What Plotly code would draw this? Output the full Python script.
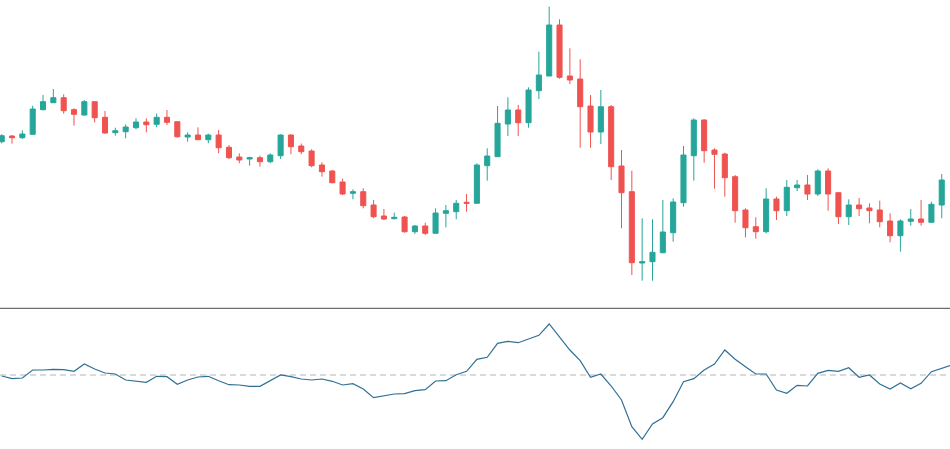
import plotly.graph_objects as go

# ---- data ----
opens = [66.83, 67.40, 67.23, 67.57, 70.03, 70.73, 71.23, 70.03, 69.50, 70.83,
         69.27, 67.73, 67.83, 68.23, 68.80, 68.57, 69.27, 68.83, 67.30, 67.50,
         67.03, 67.50, 66.27, 65.30, 65.10, 65.23, 64.83, 65.43, 67.50, 66.40,
         65.90, 64.50, 63.90, 62.80, 61.67, 61.83, 60.50, 59.40, 59.13, 59.30,
         57.83, 58.40, 57.67, 59.67, 59.83, 60.77, 60.67, 64.43, 65.33, 68.60,
         70.00, 68.73, 71.93, 73.40, 78.50, 73.40, 73.10, 70.40, 67.80, 70.33,
         64.40, 61.83, 54.70, 54.83, 55.73, 57.73, 60.73, 65.43, 69.00, 66.00,
         65.60, 63.33, 60.00, 58.33, 57.83, 61.10, 59.93, 62.23, 62.50, 61.60,
         63.90, 61.73, 59.33, 60.50, 60.20, 60.00, 58.90, 57.43, 58.87, 59.10,
         58.77, 60.50]
highs = [67.57, 67.50, 67.97, 70.43, 71.50, 72.10, 71.57, 70.17, 71.00, 70.83,
         69.90, 68.23, 68.57, 69.17, 69.17, 69.65, 70.00, 68.83, 67.77, 68.27,
         67.63, 68.00, 66.50, 65.67, 65.33, 65.43, 65.67, 67.57, 67.57, 66.65,
         66.07, 64.77, 64.00, 63.13, 62.07, 62.17, 61.00, 60.10, 59.73, 59.40,
         58.50, 58.73, 60.17, 60.50, 61.00, 61.60, 64.67, 66.17, 70.40, 71.27,
         70.50, 72.27, 75.83, 80.33, 79.07, 76.17, 75.07, 71.50, 72.00, 70.50,
         66.00, 63.93, 59.17, 59.07, 61.00, 61.17, 66.40, 69.17, 69.07, 66.17,
         65.73, 63.50, 60.17, 59.27, 62.17, 61.33, 63.00, 63.00, 63.50, 64.07,
         64.17, 61.73, 61.07, 61.20, 60.67, 60.93, 59.67, 59.07, 60.10, 61.00,
         60.83, 63.60]
lows = [66.67, 66.63, 67.10, 67.57, 69.97, 70.73, 69.63, 68.43, 69.43, 68.77,
        67.63, 67.43, 67.17, 68.07, 67.77, 68.27, 68.50, 67.23, 66.83, 67.03,
        66.67, 65.67, 65.10, 64.67, 64.43, 64.33, 64.67, 65.10, 65.57, 65.57,
        64.27, 63.33, 62.67, 61.50, 61.07, 60.17, 59.17, 59.00, 59.07, 57.73,
        57.60, 57.50, 57.67, 58.27, 59.07, 59.83, 60.67, 62.93, 65.33, 67.40,
        67.40, 68.23, 71.10, 73.40, 73.13, 72.60, 66.23, 66.23, 66.60, 63.00,
        58.17, 53.50, 52.93, 52.93, 55.67, 56.83, 60.33, 62.93, 64.73, 62.13,
        61.33, 58.73, 57.27, 57.13, 57.67, 59.00, 59.40, 61.90, 61.00, 61.40,
        59.93, 58.60, 58.50, 59.40, 58.67, 58.27, 56.77, 55.83, 58.43, 58.43,
        58.77, 59.17]
closes = [67.43, 67.23, 67.60, 70.10, 70.83, 71.23, 69.93, 69.57, 70.83, 69.23,
          67.70, 67.93, 68.30, 68.80, 68.53, 69.27, 68.77, 67.33, 67.50, 67.03,
          67.50, 66.23, 65.23, 65.00, 65.23, 64.83, 65.50, 67.50, 66.33, 65.83,
          64.43, 63.83, 62.73, 61.60, 61.83, 60.43, 59.33, 59.10, 59.27, 57.83,
          58.40, 57.67, 59.70, 59.93, 60.67, 60.67, 64.50, 65.40, 68.67, 70.00,
          68.73, 72.00, 73.50, 78.50, 73.27, 73.00, 70.33, 67.80, 70.33, 64.33,
          61.73, 54.73, 54.83, 55.77, 57.80, 60.80, 65.50, 69.00, 65.93, 65.57,
          63.23, 59.93, 58.23, 57.83, 61.10, 59.93, 62.27, 62.50, 61.60, 63.90,
          61.60, 59.33, 60.50, 60.13, 59.93, 58.83, 57.43, 58.90, 59.10, 58.77,
          60.57, 63.00]

oscillator = [-0.10, -0.37, -0.30, 0.50, 0.50, 0.57, 0.53, 0.37, 1.10, 0.60,
              0.20, 0.10, -0.50, -0.60, -0.73, -0.13, -0.17, -0.93, -0.50, -0.20,
              -0.13, -0.57, -0.97, -1.00, -1.13, -1.13, -0.57, 0.00, -0.17, -0.40,
              -0.50, -0.40, -0.63, -1.00, -0.87, -1.40, -2.27, -2.07, -1.90, -1.87,
              -1.57, -1.47, -0.60, -0.57, 0.03, 0.37, 1.57, 1.77, 3.17, 3.37,
              3.23, 3.60, 3.97, 5.10, 3.77, 2.50, 1.43, -0.23, 0.10, -1.10,
              -2.50, -5.17, -6.43, -4.90, -4.27, -2.67, -0.67, -0.37, 0.50, 1.10,
              2.50, 1.57, 0.83, 0.10, 0.10, -1.50, -1.83, -1.03, -1.10, 0.17,
              0.47, 0.37, 0.73, -0.23, 0.00, -0.90, -1.40, -0.80, -1.37, -0.83,
              0.33, 0.67, 1.00]

bars = list(range(len(opens)))
osc_bars = list(range(len(oscillator)))

UP = "#26a69a"
DOWN = "#ef5350"
LINE = "#2f7096"

split = 1 - 308.3 / 449  # paper y of the pane separator

fig = go.Figure()
fig.add_trace(go.Candlestick(
    x=bars, open=opens, high=highs, low=lows, close=closes,
    increasing=dict(line=dict(color=UP, width=1), fillcolor=UP),
    decreasing=dict(line=dict(color=DOWN, width=1), fillcolor=DOWN),
    whiskerwidth=0, hoverinfo="skip", showlegend=False,
    xaxis="x", yaxis="y",
))
fig.add_trace(go.Scatter(
    x=osc_bars, y=oscillator, mode="lines",
    line=dict(color=LINE, width=1.2),
    hoverinfo="skip", showlegend=False,
    xaxis="x2", yaxis="y2",
))

axis_off = dict(showgrid=False, zeroline=False, showticklabels=False,
                showline=False, ticks="")
fig.update_layout(
    width=950, height=449,
    margin=dict(l=0, r=0, t=0, b=0),
    paper_bgcolor="white", plot_bgcolor="white",
    xaxis=dict(range=[-0.165, 91.8], anchor="y", rangeslider=dict(visible=False), **axis_off),
    xaxis2=dict(range=[-0.165, 91.8], anchor="y2", matches="x", **axis_off),
    yaxis=dict(domain=[split, 1], range=[50.17, 81.0], **axis_off),
    yaxis2=dict(domain=[0, split], range=[-7.4, 6.67], **axis_off),
    shapes=[
        dict(type="line", xref="paper", yref="paper", x0=0, x1=1, y0=split, y1=split,
             line=dict(color="#4a4a4a", width=1)),
        dict(type="line", xref="paper", yref="y2", x0=0, x1=1, y0=0, y1=0,
             line=dict(color="#b5b5b5", width=1, dash="6px,4px"), layer="below"),
    ],
)

fig.write_html(
    "out.html",
    config={"displayModeBar": False, "staticPlot": True},
    post_script="document.body.style.margin='0';document.body.style.overflow='hidden';",
)
